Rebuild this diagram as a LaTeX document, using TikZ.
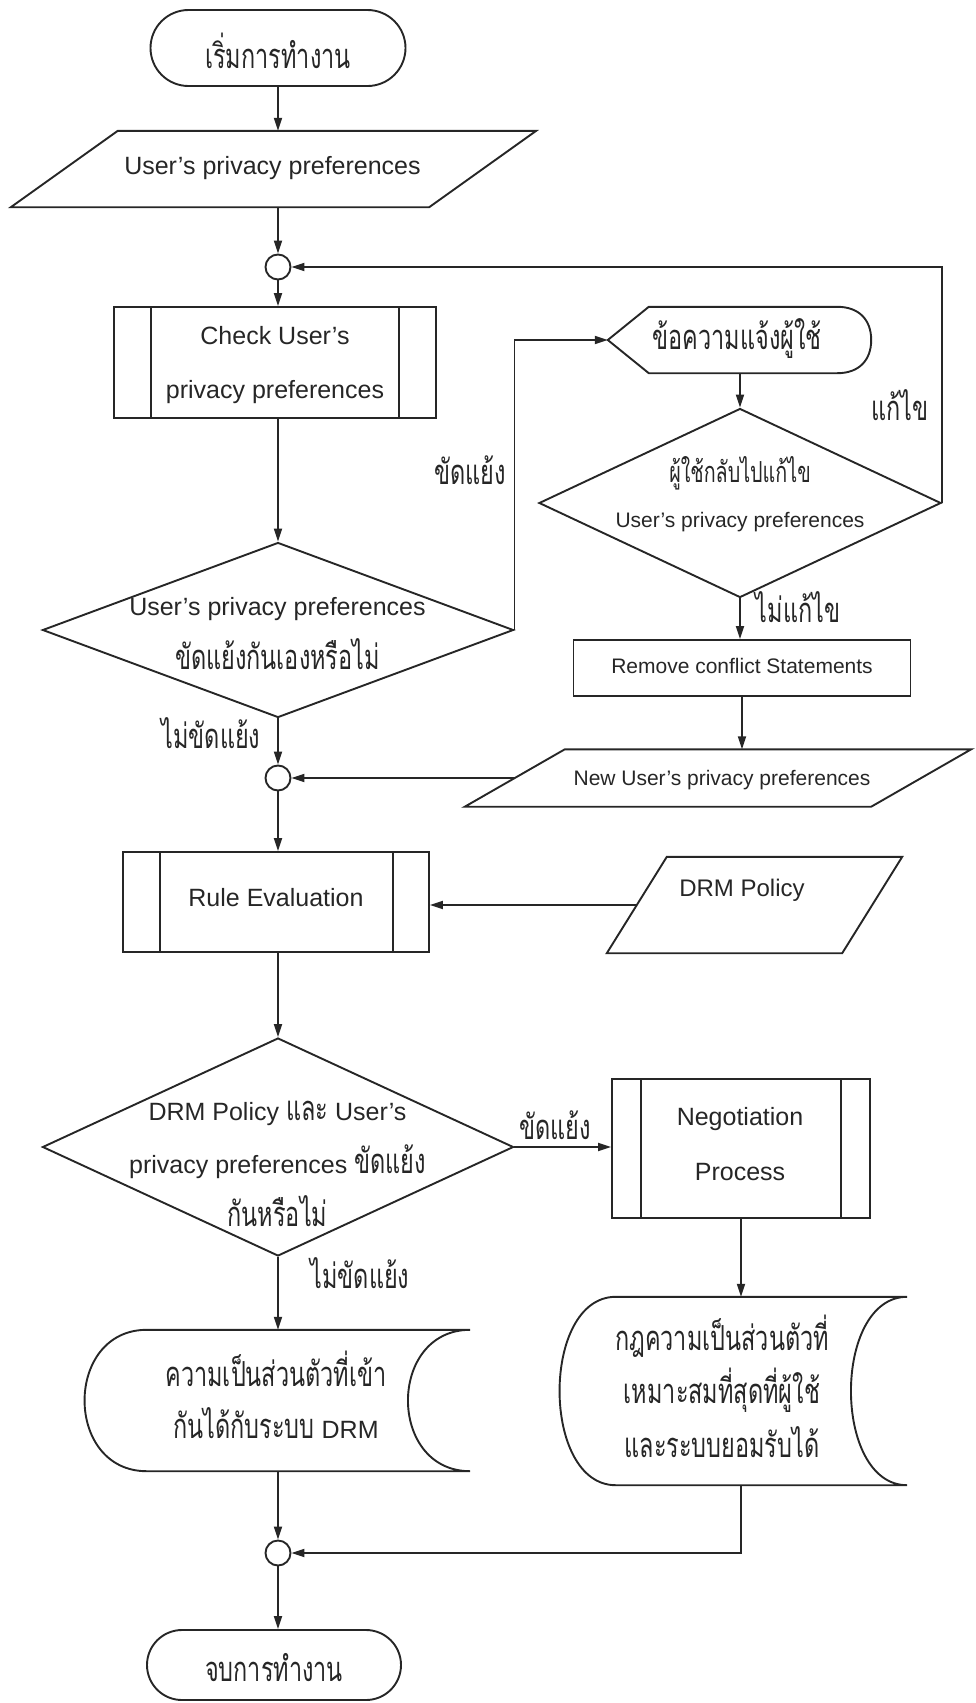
\documentclass[tikz,border=0pt]{standalone}
\usepackage{fontspec}
\setmainfont{Liberation Sans}
\newfontfamily\thaifont[Script=Thai,Scale=1.38,FakeStretch=0.68]{Loma}
\newcommand\thaitxt[1]{{\thaifont #1}}
\usetikzlibrary{shapes.geometric,shapes.misc,arrows.meta,calc}
\definecolor{ink}{HTML}{262626}

\begin{document}
\begin{tikzpicture}[x=1pt,y=-1pt,
  line/.style={draw=ink,line width=1.9pt},
  arr/.style={line,-{Triangle[length=13pt,width=8pt]}},
  txt/.style={text=ink,align=center,inner sep=0pt,font=\fontsize{25}{54}\selectfont},
  small/.style={text=ink,align=center,inner sep=0pt,font=\fontsize{21}{45}\selectfont},
  thai/.style={text=ink,align=center,inner sep=0pt,font=\fontsize{25}{54}\selectfont\thaifont},
  term/.style={rounded rectangle,line,inner sep=0pt,minimum width=255pt,minimum height=76pt},
  proc/.style={rectangle,line,inner sep=0pt},
  dec/.style={diamond,line,inner sep=0pt},
  junc/.style={circle,line,inner sep=0pt,minimum size=25pt},
  ghost/.style={rectangle,inner sep=0pt},
]
\useasboundingbox (0,0) rectangle (976,1703);

% parallelogram outline around a ghost node: #1 node, #2 horizontal slant
\newcommand\slantbox[2]{%
  \draw[line] (#1.south west) -- ($(#1.north west)+(#2,0)$) -- (#1.north east)
    -- ($(#1.south east)+(-#2,0)$) -- cycle;}

% ---------- shapes ----------
\node[term] (start) at (278,48) {};
\node[thai] (startT) at (278,51) {เริ่มการทำงาน};

\node[ghost,minimum width=525pt,minimum height=76pt] (in1) at (273.5,169) {};
\slantbox{in1}{107}
\node[txt] (in1T) at (272.5,168) {User's privacy preferences};

\node[junc] (c1) at (278,267) {};

\node[proc,minimum width=322pt,minimum height=111pt] (chk) at (275,362.5) {};
\draw[line] ($(chk.north west)+(38,0)$) -- ($(chk.south west)+(38,0)$);
\draw[line] ($(chk.north east)+(-38,0)$) -- ($(chk.south east)+(-38,0)$);
\node[txt] (chkT) at (275,365) {Check User's\\privacy preferences};

\node[dec,minimum width=471pt,minimum height=175pt] (d1) at (278,630) {};
\node[txt] (d1T) at (277.5,634) {User's privacy preferences\\\thaitxt{ขัดแย้งกันเองหรือไม่}};

% message to the user (display symbol)
\node[ghost,minimum width=263pt,minimum height=66pt] (msg) at (739.5,340) {};
\draw[line] (msg.west) -- ($(msg.north west)+(41,0)$) -- ($(msg.north east)+(-34,0)$)
  .. controls ($(msg.north east)+(-12,0)$) and ($(msg.east)+(0,-20)$) .. (msg.east)
  .. controls ($(msg.east)+(0,20)$) and ($(msg.south east)+(-12,0)$) .. ($(msg.south east)+(-34,0)$)
  -- ($(msg.south west)+(41,0)$) -- cycle;
\node[thai] (msgT) at (737,339) {ข้อความแจ้งผู้ใช้};

\node[dec,minimum width=402pt,minimum height=189pt] (d2) at (740,503) {};
\node[small] (d2T) at (740,494) {\thaitxt{ผู้ใช้กลับไปแก้ไข}\\User's privacy preferences};

\node[proc,minimum width=337pt,minimum height=56pt] (rm) at (742,668) {};
\node[small] (rmT) at (742,666) {Remove conflict Statements};

\node[ghost,minimum width=506pt,minimum height=57pt] (in2) at (718,778) {};
\slantbox{in2}{100}
\coordinate (in2w) at ($(in2.west)+(50,0)$);
\node[small] (in2T) at (722,780) {New User's privacy preferences};

\node[junc] (c2) at (278,778) {};

\node[proc,minimum width=306pt,minimum height=100pt] (rule) at (276,902) {};
\draw[line] ($(rule.north west)+(38,0)$) -- ($(rule.south west)+(38,0)$);
\draw[line] ($(rule.north east)+(-37,0)$) -- ($(rule.south east)+(-37,0)$);
\node[txt] (ruleT) at (276,898) {Rule Evaluation};

\node[ghost,minimum width=295pt,minimum height=96pt] (drm) at (754.5,905) {};
\slantbox{drm}{60}
\coordinate (drmw) at ($(drm.west)+(30,0)$);
\node[txt,font=\fontsize{24}{30}\selectfont] (drmT) at (742,890) {DRM Policy};

\node[dec,minimum width=471pt,minimum height=218pt] (d3) at (278,1147) {};
\node[txt,font=\fontsize{25}{53}\selectfont] (d3T) at (277.5,1164)
  {DRM Policy \thaitxt{และ} User's\\privacy preferences \thaitxt{ขัดแย้ง}\\\thaitxt{กันหรือไม่}};

\node[proc,minimum width=258pt,minimum height=139pt] (neg) at (741,1148.5) {};
\draw[line] ($(neg.north west)+(30,0)$) -- ($(neg.south west)+(30,0)$);
\draw[line] ($(neg.north east)+(-30,0)$) -- ($(neg.south east)+(-30,0)$);
\node[txt,font=\fontsize{25}{55}\selectfont] (negT) at (740,1144.5) {Negotiation\\Process};

% stored-data outputs
\node[ghost,minimum width=385pt,minimum height=141pt] (doc1) at (277.5,1400.5) {};
\draw[line] ($(doc1.north west)+(62,0)$) -- (doc1.north east)
  .. controls ($(doc1.north east)+(-83,0)$) and ($(doc1.south east)+(-83,0)$) .. (doc1.south east)
  -- ($(doc1.south west)+(62,0)$)
  .. controls ($(doc1.south west)+(-21,0)$) and ($(doc1.north west)+(-21,0)$) .. ($(doc1.north west)+(62,0)$)
  -- cycle;
\node[txt,font=\fontsize{25}{52}\selectfont] (doc1T) at (276,1395)
  {\thaitxt{ความเป็นส่วนตัวที่เข้า}\\\thaitxt{กันได้กับระบบ} DRM};

\node[ghost,minimum width=347pt,minimum height=188pt] (doc2) at (733.5,1391) {};
\draw[line] ($(doc2.north west)+(56,0)$) -- (doc2.north east)
  .. controls ($(doc2.north east)+(-75,0)$) and ($(doc2.south east)+(-75,0)$) .. (doc2.south east)
  -- ($(doc2.south west)+(56,0)$)
  .. controls ($(doc2.south west)+(-19,0)$) and ($(doc2.north west)+(-19,0)$) .. ($(doc2.north west)+(56,0)$)
  -- cycle;
\node[thai,font=\fontsize{25}{53.5}\selectfont\thaifont] (doc2T) at (722,1386)
  {กฎความเป็นส่วนตัวที่\\เหมาะสมที่สุดที่ผู้ใช้\\และระบบยอมรับได้};

\node[junc] (c3) at (278,1553) {};

\node[term,minimum width=254pt,minimum height=70pt] (stop) at (274,1665) {};
\node[thai] (stopT) at (274,1668) {จบการทำงาน};

% ---------- connectors ----------
\draw[arr] (start.south) -- (start.south |- in1.north);
\draw[arr] (c1 |- in1.south) -- (c1.north);
\draw[arr] (c1.south) -- (c1.south |- chk.north);
\draw[arr] (d1.north |- chk.south) -- (d1.north);
\draw[arr] (d1.east) |- (msg.west);
\draw[arr] (msg.south -| d2.north) -- (d2.north);
\draw[arr] (d2.east) |- (c1.east);
\draw[arr] (d2.south) -- (d2.south |- rm.north);
\draw[arr] (rm.south) -- (rm.south |- in2.north);
\draw[arr] (in2w) -- (c2.east);
\draw[arr] (d1.south) -- (c2.north);
\draw[arr] (c2.south) -- (c2.south |- rule.north);
\draw[arr] (drmw) -- (drmw -| rule.east);
\draw[arr] (d3.north |- rule.south) -- (d3.north);
\draw[arr] (d3.east) -- (d3.east -| neg.west);
\draw[arr] (d3.south) -- (d3.south |- doc1.north);
\draw[arr] (neg.south) -- (neg.south |- doc2.north);
\draw[arr] (c3 |- doc1.south) -- (c3.north);
\draw[arr] (doc2.south -| neg.south) |- (c3.east);
\draw[arr] (c3.south) -- (c3.south |- stop.north);

% ---------- branch labels ----------
\node[thai] (l1) at (470,470) {ขัดแย้ง};
\node[thai] (l2) at (900,405) {แก้ไข};
\node[thai] (l3) at (798,607) {ไม่แก้ไข};
\node[thai] (l4) at (211,733) {ไม่ขัดแย้ง};
\node[thai] (l5) at (555,1125) {ขัดแย้ง};
\node[thai] (l6) at (360,1273) {ไม่ขัดแย้ง};
\end{tikzpicture}
\end{document}
